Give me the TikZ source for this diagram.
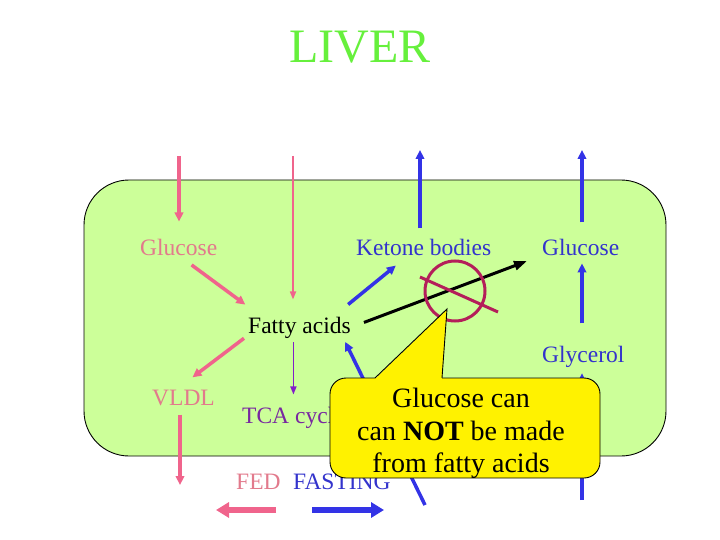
\documentclass[tikz,border=0pt]{standalone}
\usepackage{fontspec}
\setmainfont{Liberation Serif}
\usetikzlibrary{arrows.meta, positioning}

\definecolor{liverbox}{RGB}{204,255,153}
\definecolor{livergreen}{RGB}{102,240,60}
\definecolor{pinktext}{RGB}{226,122,140}
\definecolor{pinkarrow}{RGB}{240,100,140}
\definecolor{bluetext}{RGB}{51,51,204}
\definecolor{bluearrow}{RGB}{51,51,230}
\definecolor{purpletext}{RGB}{120,40,160}
\definecolor{purplearrow}{RGB}{130,30,200}
\definecolor{nogored}{RGB}{180,30,90}

\begin{document}
\begin{tikzpicture}[x=1pt, y=-1pt,
    lbl/.style={inner sep=0pt, anchor=base west, font=\fontsize{23.5}{28}\selectfont},
    fatarrow/.style={line width=3.5pt, -{Triangle[length=9pt,width=8.5pt]}},
    thinarrow/.style={line width=1.6pt, -{Triangle[length=8pt,width=6pt]}},
    widearrow/.style={line width=6.5pt, -{Triangle[length=13pt,width=15pt]}},
    calltext/.style={inner sep=0pt, anchor=base, font=\fontsize{28}{33}\selectfont}]
    \useasboundingbox (0,0) rectangle (720,540);

    % Liver cell
    \draw[line width=0.9pt, fill=liverbox, rounded corners=45pt] (84,180) rectangle (666,456);
    \node[inner sep=0pt, anchor=base, text=livergreen, font=\fontsize{48}{56}\selectfont] (liver) at (360,63) {LIVER};

    % Labels
    \node[lbl, text=pinktext] (gluL) at (140,255) {Glucose};
    \node[lbl, text=bluetext] (ketone) at (356,255) {Ketone bodies};
    \node[lbl, text=bluetext] (gluR) at (542,255) {Glucose};
    \node[lbl] (fatty) at (248,333) {Fatty acids};
    \node[lbl, text=bluetext] (glycerol) at (542,362) {Glycerol};
    \node[lbl, text=pinktext] (vldl) at (152,405) {VLDL};
    \node[lbl, text=purpletext] (tca) at (242,423) {TCA cycle};
    \node[lbl, text=pinktext] (fed) at (236,489) {FED};
    \node[lbl, text=bluetext] (fasting) at (293,489) {FASTING};

    % Free ends
    \coordinate (glcin) at (179,156);
    \coordinate (fain) at (293,156);
    \coordinate (ketout) at (420,150);
    \coordinate (glcout) at (582,150);
    \coordinate (glyin) at (582,500);
    \coordinate (fafrom) at (425,505);
    \coordinate (vldlout) at (180,485);
    \coordinate (fedtail) at (276,510);
    \coordinate (fedtip) at (216,510);
    \coordinate (fasttail) at (312,510);
    \coordinate (fasttip) at (384,510);

    % Fed state (pink)
    \draw[fatarrow, pinkarrow, shorten >=17pt] (glcin) -- (glcin |- gluL.north);
    \draw[thinarrow, pinkarrow, shorten >=17pt] (fain) -- (fain |- fatty.north);
    \draw[fatarrow, pinkarrow, shorten <=16pt, shorten >=20pt] (gluL.south) -- ([xshift=-38pt]fatty.north);
    \draw[fatarrow, pinkarrow, shorten >=20pt] ([xshift=-4pt]fatty.south west) -- ([xshift=-7pt]vldl.north);
    \draw[fatarrow, pinkarrow, shorten <=9pt] (vldlout |- vldl.south) -- (vldlout);
    \draw[thinarrow, purplearrow, shorten <=4pt, shorten >=12pt] (tca.north |- fatty.south) -- (tca.north);

    % Fasting state (blue)
    \draw[fatarrow, bluearrow, shorten <=19pt, shorten >=16pt] ([xshift=34pt]fatty.north) -- ([xshift=-15.5pt]ketone.south);
    \draw[fatarrow, bluearrow, shorten <=10pt] (ketout |- ketone.north) -- (ketout);
    \draw[fatarrow, bluearrow, shorten <=16pt] (glcout |- gluR.north) -- (glcout);
    \draw[fatarrow, bluearrow, shorten <=22pt, shorten >=8pt] (glcout |- glycerol.north) -- (glcout |- gluR.south);
    \draw[fatarrow, bluearrow, shorten >=6pt] (glyin) -- (glyin |- glycerol.south);
    \draw[fatarrow, bluearrow, shorten >=4pt] (fafrom) -- ([xshift=44pt]fatty.south);

    % Blocked route
    \draw[line width=3pt, -{Triangle[length=13pt,width=9pt]}, shorten <=14pt, shorten >=16pt] (fatty.east) -- (gluR.south west);
    \coordinate (nogo) at (455,291);
    \draw[nogored, line width=3pt] (nogo) circle[radius=30pt];
    \draw[nogored, line width=3pt] (420,277) -- (498,312);

    % Legend
    \draw[widearrow, pinkarrow] (fedtail) -- (fedtip);
    \draw[widearrow, bluearrow] (fasttail) -- (fasttip);

    % Callout
    \coordinate (calltip) at (447,309);
    \fill[yellow, rounded corners=16pt] (330,378) rectangle (600,478);
    \fill[yellow] (375,379) -- (calltip) -- (442,379) -- cycle;
    \draw[line width=0.9pt, rounded corners=16pt] (442,378) -- (600,378) -- (600,478) -- (330,478) -- (330,378) -- (375,378);
    \draw[line width=0.9pt] (375,378) -- (calltip) -- (442,378);
    \node[calltext] (call1) at (461,407) {Glucose can};
    \node[calltext] (call2) at (461,440) {can \textbf{NOT} be made};
    \node[calltext] (call3) at (461,472) {from fatty acids};
\end{tikzpicture}
\end{document}
